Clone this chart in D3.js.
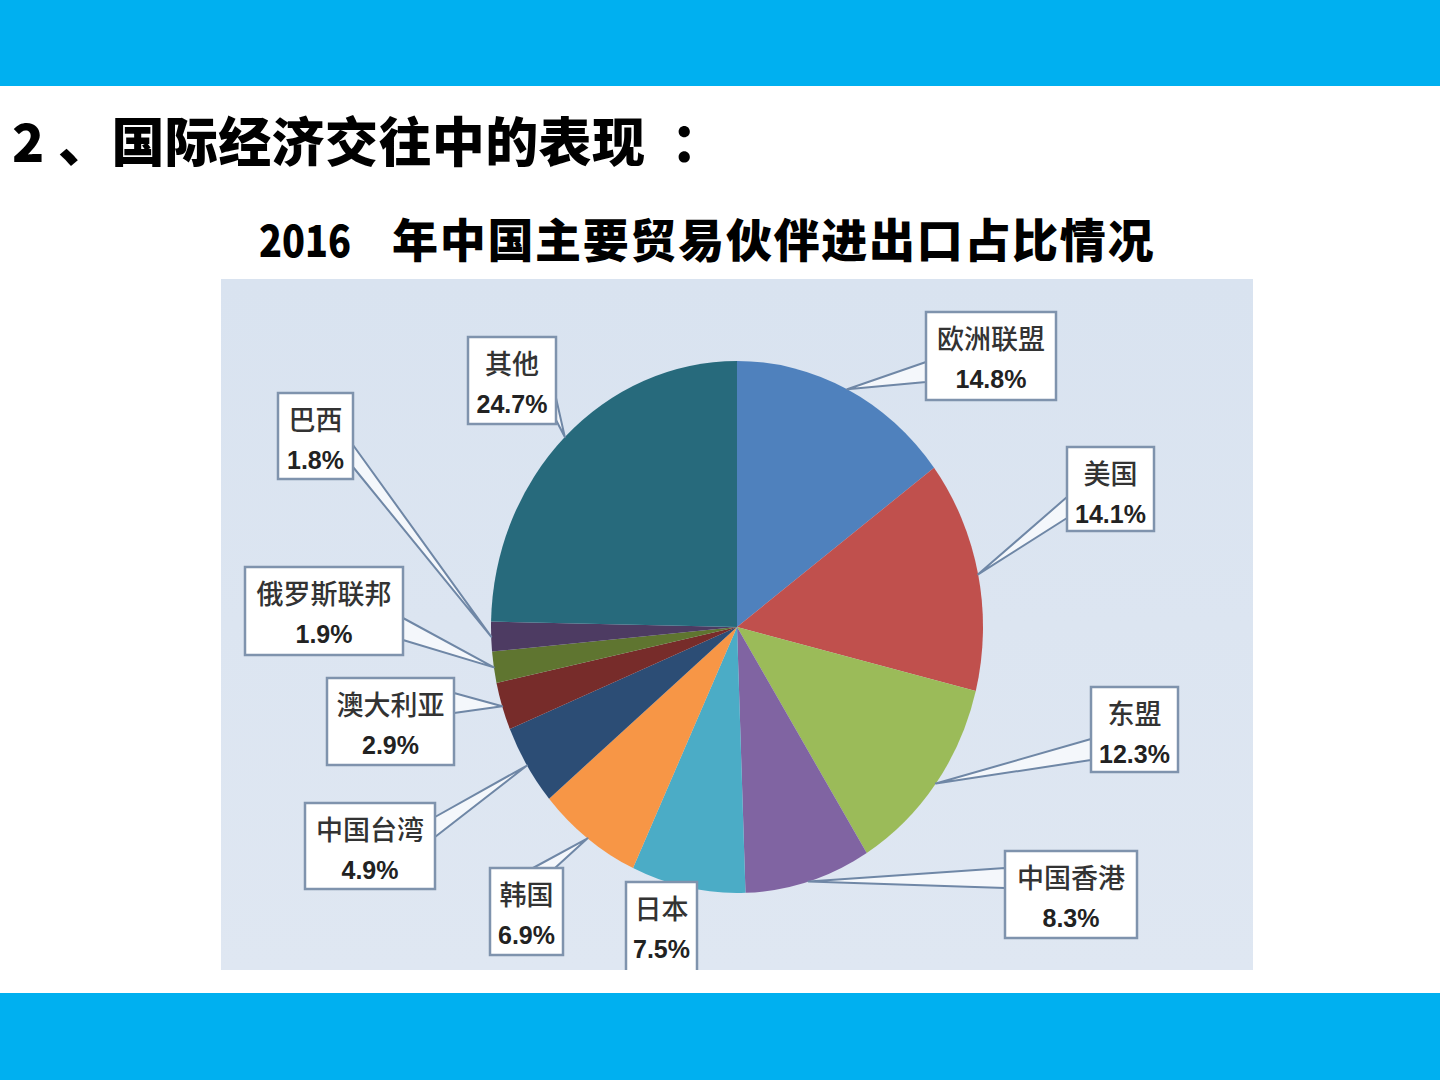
<!DOCTYPE html>
<html>
<head>
<meta charset="utf-8">
<script src="https://cdn.jsdelivr.net/npm/d3@7"></script>
<style>
  html, body { margin: 0; padding: 0; background: #fff; }
  svg { display: block; }
</style>
</head>
<body>
<div id="chart"></div>
<script>
// Data (share of China's 2016 trade, %).
const partners = ["欧洲联盟", "美国", "东盟", "中国香港", "日本", "韩国",
    "中国台湾", "澳大利亚", "俄罗斯联邦", "巴西", "其他"];
const shares = [14.8, 14.1, 12.3, 8.3, 7.5, 6.9, 4.9, 2.9, 1.9, 1.8, 24.7];
const sliceColors = ["#4f81bd", "#c0504d", "#9bbb59", "#8064a2", "#4bacc6", "#f79646",
    "#2c4d75", "#772c2a", "#5f7530", "#4d3b62", "#276a7c"];

// Heading pieces.
const titleNumber = "2";
const titleBody = "、国际经济交往中的表现";
const titleColon = "：";
const chartYear = "2016";
const chartTitle = "年中国主要贸易伙伴进出口占比情况";

// Callout box placement (box rect + two base points where the pointer leaves the box).
const calloutLayout = [
    { x: 926, y: 312, w: 130, h: 88, base: [[926, 362], [926, 382]] },
    { x: 1067, y: 447, w: 87, h: 84, base: [[1067, 497], [1067, 518]] },
    { x: 1091, y: 687, w: 87, h: 85, base: [[1091, 739], [1091, 760]] },
    { x: 1005, y: 851, w: 132, h: 87, base: [[1005, 868], [1005, 888]] },
    { x: 626, y: 882, w: 71, h: 92, base: [[670, 882], [690, 882]] },
    { x: 490, y: 868, w: 73, h: 87, base: [[533, 868], [555, 868]] },
    { x: 305, y: 803, w: 130, h: 86, base: [[435, 817], [435, 837]] },
    { x: 327, y: 678, w: 127, h: 87, base: [[454, 693], [454, 713]] },
    { x: 245, y: 567, w: 158, h: 88, base: [[403, 618], [403, 640]] },
    { x: 278, y: 393, w: 75, h: 86, base: [[353, 445], [353, 467]] },
    { x: 468, y: 337, w: 88, h: 87, base: [[556, 398], [556, 420]] }
];

function createPieSlide(width, height) {
    const svg = d3.create("svg")
        .attr("width", width)
        .attr("height", height)
        .attr("viewBox", [0, 0, width, height]);

    // Blue bands top and bottom.
    svg.append("rect").attr("x", 0).attr("y", 0).attr("width", width).attr("height", 86).attr("fill", "#00b0f0");
    svg.append("rect").attr("x", 0).attr("y", 993).attr("width", width).attr("height", 87).attr("fill", "#00b0f0");

    // Headings.
    const heading = svg.append("g")
        .attr("font-family", "'Noto Sans CJK SC', sans-serif")
        .attr("font-weight", 900)
        .attr("fill", "#000");

    heading.append("text").attr("x", 12).attr("y", 162).attr("font-size", 53).text(titleNumber);
    heading.append("text").attr("x", 58).attr("y", 162).attr("font-size", 53)
        .attr("letter-spacing", 0.4).text(titleBody);
    heading.append("text").attr("x", 671).attr("y", 162).attr("font-size", 53).text(titleColon);

    heading.append("text")
        .attr("transform", "translate(259,257) scale(0.86,1)")
        .attr("font-size", 44)
        .text(chartYear);
    heading.append("text")
        .attr("x", 392).attr("y", 257)
        .attr("font-size", 46)
        .attr("letter-spacing", 1.7)
        .text(chartTitle);

    // Chart panel.
    const defs = svg.append("defs");
    const grad = defs.append("linearGradient").attr("id", "panelGrad")
        .attr("x1", 0).attr("y1", 0).attr("x2", 0).attr("y2", 1);
    grad.append("stop").attr("offset", "0%").attr("stop-color", "#d9e3f0");
    grad.append("stop").attr("offset", "100%").attr("stop-color", "#dfe7f2");
    defs.append("clipPath").attr("id", "panelClip")
        .append("rect").attr("x", 221).attr("y", 279).attr("width", 1032).attr("height", 691);

    svg.append("rect")
        .attr("x", 221).attr("y", 279).attr("width", 1032).attr("height", 691)
        .attr("fill", "url(#panelGrad)");

    const plot = svg.append("g").attr("clip-path", "url(#panelClip)");

    // Pie (slightly squashed horizontally, as in the picture).
    const cx = 737, cy = 627, ry = 266, rx = 246;
    const sx = rx / ry;
    const pie = d3.pie().sort(null).value(d => d);
    const arcs = pie(shares);
    const arc = d3.arc().innerRadius(0).outerRadius(ry);
    const edge = d3.arc().innerRadius(ry).outerRadius(ry);

    plot.append("g")
        .attr("transform", `translate(${cx},${cy}) scale(${sx},1)`)
        .selectAll("path")
        .data(arcs)
        .join("path")
        .attr("d", arc)
        .attr("fill", (d, i) => sliceColors[i]);

    // Callout pointers: thin wedges from box to slice edge.
    const anchors = arcs.map(a => {
        const [px, py] = edge.centroid(a);
        return [cx + px * sx, cy + py];
    });

    plot.append("g")
        .selectAll("path")
        .data(calloutLayout)
        .join("path")
        .attr("d", (b, i) => `M${b.base[0][0]},${b.base[0][1]}L${anchors[i][0]},${anchors[i][1]}L${b.base[1][0]},${b.base[1][1]}Z`)
        .attr("fill", "#f4f7fb")
        .attr("stroke", "#6f87a6")
        .attr("stroke-width", 2)
        .attr("stroke-linejoin", "round");

    // Callout boxes with labels.
    const boxes = plot.append("g")
        .selectAll("g")
        .data(calloutLayout)
        .join("g");

    boxes.append("rect")
        .attr("x", b => b.x).attr("y", b => b.y)
        .attr("width", b => b.w).attr("height", b => b.h)
        .attr("fill", "#fff")
        .attr("stroke", "#7f93ad")
        .attr("stroke-width", 2.5);

    boxes.append("text")
        .attr("x", b => b.x + b.w / 2)
        .attr("y", b => b.y + 37)
        .attr("text-anchor", "middle")
        .attr("font-family", "'Noto Sans CJK SC', sans-serif")
        .attr("font-weight", 500)
        .attr("font-size", 27)
        .attr("fill", "#333")
        .text((b, i) => partners[i]);

    boxes.append("text")
        .attr("x", b => b.x + b.w / 2)
        .attr("y", b => b.y + 76)
        .attr("text-anchor", "middle")
        .attr("font-family", "'Liberation Sans', Arial, sans-serif")
        .attr("font-weight", "bold")
        .attr("font-size", 25)
        .attr("fill", "#222")
        .text((b, i) => d3.format(".1f")(shares[i]) + "%");

    return svg.node();
}

document.getElementById("chart").appendChild(createPieSlide(1440, 1080));
</script>
</body>
</html>
